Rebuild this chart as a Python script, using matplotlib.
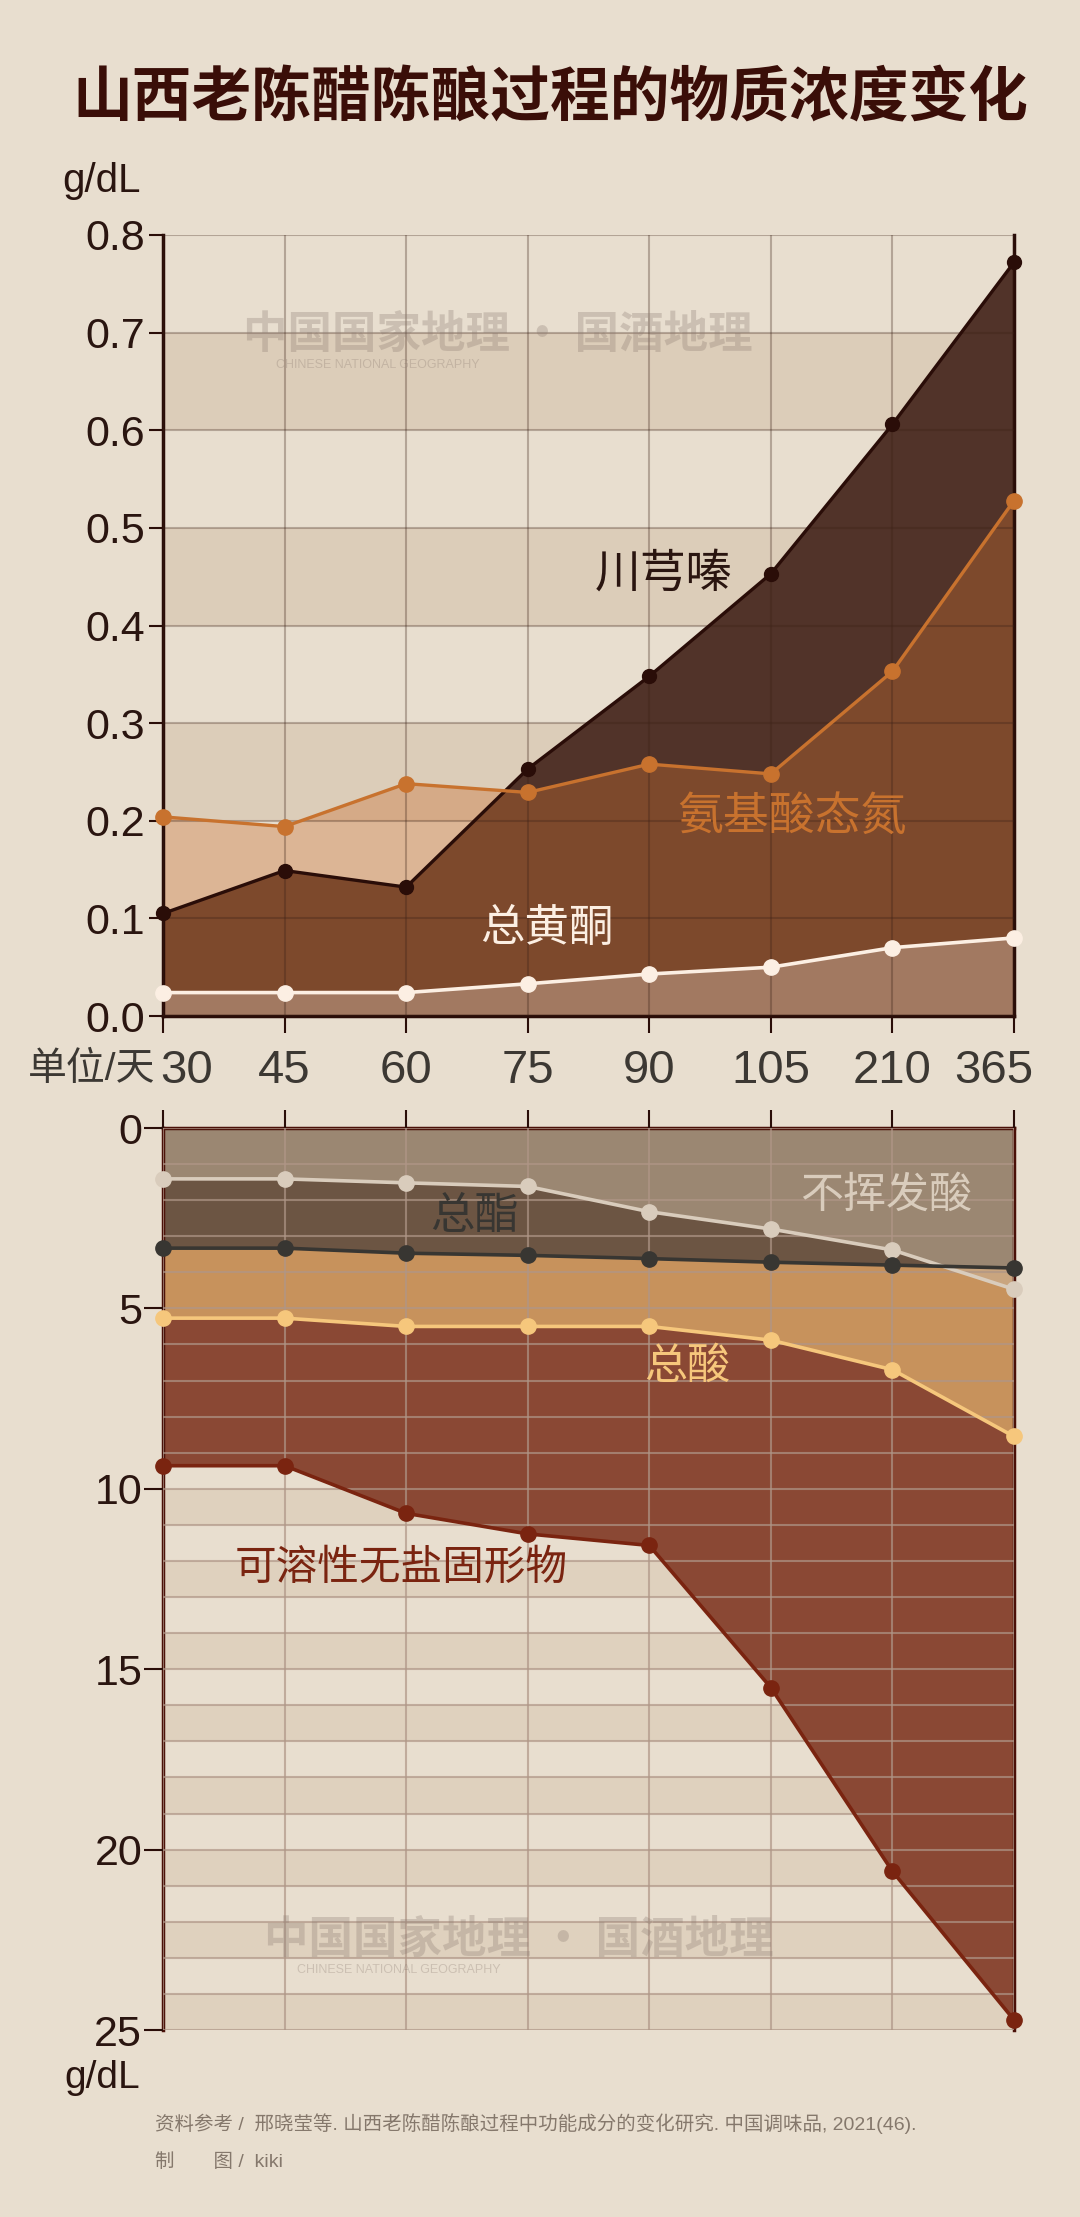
import numpy as np
import matplotlib
matplotlib.use('Agg')
import matplotlib.pyplot as plt
from matplotlib.ticker import MultipleLocator, FormatStrFormatter
from matplotlib.transforms import ScaledTranslation

plt.rcParams['font.family'] = ['Liberation Sans', 'Noto Sans CJK SC', 'DejaVu Sans']

# 陈酿天数
days = ['30', '45', '60', '75', '90', '105', '210', '365']

# 上图, g/dL
chuanxiongqin = [0.105, 0.149, 0.132, 0.253, 0.348, 0.453, 0.606, 0.772]
anjisuan_dan = [0.204, 0.194, 0.238, 0.229, 0.258, 0.248, 0.353, 0.528]
zong_huangtong = [0.024, 0.024, 0.024, 0.033, 0.043, 0.050, 0.070, 0.080]

# 下图, g/dL (纵轴向下)
buhuifa_suan = [1.41, 1.41, 1.52, 1.62, 2.32, 2.80, 3.38, 4.47]
zong_zhi = [3.33, 3.33, 3.47, 3.53, 3.62, 3.72, 3.80, 3.88]
zong_suan = [5.27, 5.27, 5.50, 5.50, 5.50, 5.88, 6.70, 8.55]
kerongxing = [9.36, 9.36, 10.68, 11.25, 11.57, 15.51, 20.6, 24.72]

W, H = 1080, 2217
BG = '#e8decf'
DARK = '#2a0d08'


def px_axes(l, t, r, b):
    return [l / W, 1 - b / H, (r - l) / W, (b - t) / H]


fig = plt.figure(figsize=(W / 100, H / 100), dpi=100, facecolor=BG)
x = np.arange(len(days))

# ---------- 上图 ----------
ax1 = fig.add_axes(px_axes(163, 235, 1014, 1016))
ax1.set_facecolor('none')
for k in range(0, 8, 2):
    ax1.axhspan(k / 10, (k + 1) / 10, color='#d2bea5', alpha=0.5, lw=0, zorder=0)

ax1.fill_between(x, 0, chuanxiongqin, color='#513329', lw=0, zorder=1)
ax1.fill_between(x, 0, anjisuan_dan, color='#c97033', alpha=0.37, lw=0, zorder=1.5)
ax1.fill_between(x, 0, zong_huangtong, color='#faebdc', alpha=0.3, lw=0, zorder=2)

ax1.plot(x, chuanxiongqin, color=DARK, lw=2.4, marker='o', ms=10, zorder=5, clip_on=False)
ax1.plot(x, anjisuan_dan, color='#c8722e', lw=2.4, marker='o', ms=11, zorder=6, clip_on=False)
ax1.plot(x, zong_huangtong, color='#fcefe3', lw=2.6, marker='o', ms=11, zorder=7, clip_on=False)

ax1.set_xlim(0, 7)
ax1.set_ylim(0, 0.8)
ax1.set_yticks(np.arange(0, 0.81, 0.1))
ax1.yaxis.set_major_formatter(FormatStrFormatter('%.1f'))
ax1.set_xticks(x, days)
ax1.set_axisbelow(False)
ax1.grid(True, color='#3a2015', alpha=0.3, lw=1.5)
for s in ['left', 'bottom', 'right']:
    ax1.spines[s].set_color(DARK)
    ax1.spines[s].set_linewidth(2.5)
ax1.spines['top'].set_visible(False)
ax1.tick_params(axis='y', length=10, width=1.5, color=DARK, labelsize=31,
                labelcolor='#2a1510', pad=3)
ax1.tick_params(axis='x', length=12, width=1.5, color=DARK, labelsize=34,
                labelcolor='#3c3833', pad=12)
xl = ax1.get_xticklabels()
xl[0].set_transform(xl[0].get_transform() + ScaledTranslation(0.24, 0, fig.dpi_scale_trans))
xl[-1].set_transform(xl[-1].get_transform() + ScaledTranslation(-0.2, 0, fig.dpi_scale_trans))

ax1.text(4.12, 0.452, '川芎嗪', ha='center', va='center', fontsize=33, color='#2a1510', zorder=8)
ax1.text(5.17, 0.203, '氨基酸态氮', ha='center', va='center', fontsize=33, color='#c8722e', zorder=8)
ax1.text(3.16, 0.089, '总黄酮', ha='center', va='center', fontsize=32, color='#fcefe3', zorder=8)

# ---------- 下图 ----------
ax2 = fig.add_axes(px_axes(163, 1128, 1014, 2030))
ax2.set_facecolor('none')
for k in range(0, 25, 2):
    ax2.axhspan(k, k + 1, color='#d2bea5', alpha=0.4, lw=0, zorder=0)

ax2.fill_between(x, 0, kerongxing, color='#8a4834', lw=0, zorder=1)
ax2.fill_between(x, 0, zong_suan, color='#c7925c', lw=0, zorder=1.2)
ax2.fill_between(x, 0, zong_zhi, color='#6c5543', lw=0, zorder=1.4)
ax2.fill_between(x, 0, buhuifa_suan, color='#cbb9a2', alpha=0.5, lw=0, zorder=1.6)

ax2.plot(x, kerongxing, color='#7a2410', lw=2.6, marker='o', ms=11, zorder=5, clip_on=False)
ax2.plot(x, zong_suan, color='#f6c77c', lw=2.6, marker='o', ms=11, zorder=6, clip_on=False)
ax2.plot(x, buhuifa_suan, color='#d9ccbc', lw=2.6, marker='o', ms=11, zorder=7, clip_on=False)
ax2.plot(x, zong_zhi, color='#383632', lw=2.6, marker='o', ms=11, zorder=8, clip_on=False)

ax2.set_xlim(0, 7)
ax2.set_ylim(25, 0)
ax2.set_yticks(np.arange(0, 26, 5))
ax2.yaxis.set_minor_locator(MultipleLocator(1))
ax2.xaxis.tick_top()
ax2.set_xticks(x)
ax2.set_xticklabels([])
ax2.set_axisbelow(False)
ax2.grid(True, which='both', color='#af9687', alpha=0.7, lw=1.5)
for s in ['left', 'top', 'right']:
    ax2.spines[s].set_color('#4a1008')
    ax2.spines[s].set_linewidth(2.5)
ax2.spines['bottom'].set_visible(False)
ax2.tick_params(axis='y', which='major', length=14, width=1.5, color=DARK,
                labelsize=31, labelcolor='#2a1510', pad=1)
ax2.tick_params(axis='y', which='minor', length=0)
ax2.tick_params(axis='x', length=13, width=1.5, color=DARK)

ax2.text(5.95, 1.91, '不挥发酸', ha='center', va='center', fontsize=31, color='#d9ccbc', zorder=9)
ax2.text(2.56, 2.49, '总酯', ha='center', va='center', fontsize=32, color='#383632', zorder=9)
ax2.text(4.31, 6.65, '总酸', ha='center', va='center', fontsize=31, color='#f6c77c', zorder=9)
ax2.text(1.96, 12.22, '可溶性无盐固形物', ha='center', va='center', fontsize=30, color='#7a2410', zorder=9)

# ---------- 文字 ----------
fig.text(0.51, 1 - 99 / H, '山西老陈醋陈酿过程的物质浓度变化', ha='center', va='center',
         fontsize=43, fontweight='black', color='#3a0e08', family='Noto Sans CJK SC')
fig.text(102 / W, 1 - 181 / H, 'g/dL', ha='center', va='center', fontsize=29, color='#2a1510')
fig.text(102 / W, 1 - 2078 / H, 'g/dL', ha='center', va='center', fontsize=28, color='#2a1510')
fig.text(155 / W, 1 - 1070 / H, '单位/天', ha='right', va='center', fontsize=28, color='#3c3833')

for cx, cy in [(498, 335), (519, 1940)]:
    fig.text(cx / W, 1 - cy / H, '中国国家地理 · 国酒地理', ha='center', va='center',
             fontsize=32, fontweight='bold', color='#8a7a70', alpha=0.3,
             family='Noto Sans CJK SC', zorder=10)
    fig.text((cx - 120) / W, 1 - (cy + 30) / H, 'CHINESE NATIONAL GEOGRAPHY', ha='center',
             va='center', fontsize=9, color='#8a7a70', alpha=0.3, zorder=10)

fig.text(155 / W, 1 - 2124 / H,
         '资料参考 /  邢晓莹等. 山西老陈醋陈酿过程中功能成分的变化研究. 中国调味品, 2021(46).',
         ha='left', va='center', fontsize=14, color='#85786c')
fig.text(155 / W, 1 - 2162 / H, '制　　图 /  kiki', ha='left', va='center',
         fontsize=14, color='#85786c')

fig.savefig('out.png', dpi=100, facecolor=fig.get_facecolor())
